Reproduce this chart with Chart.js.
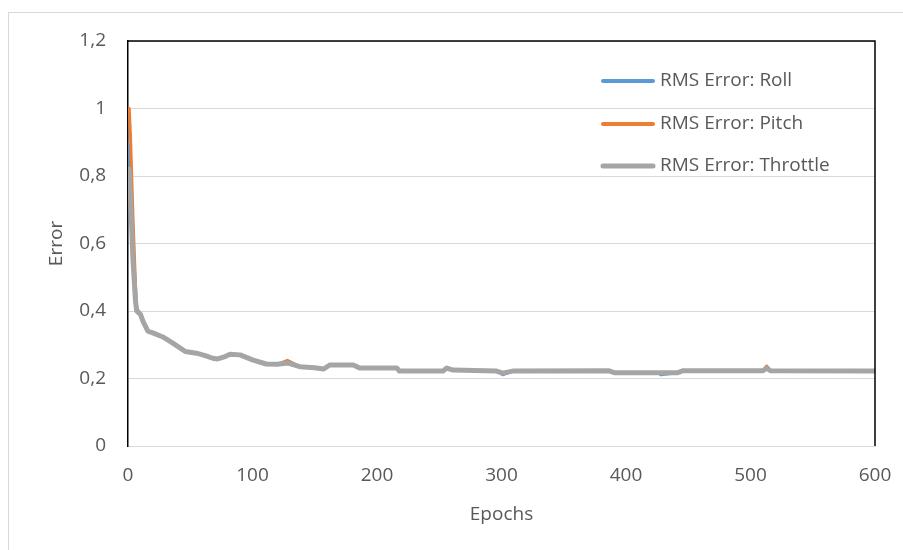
<!DOCTYPE html>
<html>
<head>
<meta charset="utf-8">
<script src="https://cdn.jsdelivr.net/npm/chart.js@4"></script>
<style>
  html, body { margin: 0; padding: 0; background: #fff; }
  #wrap { position: relative; width: 903px; height: 550px; }
  #frame { position: absolute; left: 8px; top: 12px; right: 0; bottom: 0;
           border-left: 1px solid #d9d9d9; border-top: 1px solid #d9d9d9; }
  #errorChart { position: absolute; left: 0; top: 0; }
</style>
</head>
<body>
<div id="wrap">
  <div id="frame"></div>
  <canvas id="errorChart" width="903" height="550"></canvas>
</div>
<script>
const epochs = [0, 1, 2, 4, 6, 7, 10, 12, 16, 20, 28, 36, 42, 46, 55, 62, 68, 72, 78, 82, 90, 100,
    111, 120, 128, 138, 150, 157, 162, 181, 186, 216, 218, 253, 256, 261, 296, 301, 309,
    386, 391, 426, 428, 441, 446, 510, 513, 516, 600];

const rollError = [0.90, 0.88, 0.80, 0.60, 0.45, 0.40, 0.39, 0.37, 0.34, 0.335, 0.323, 0.305, 0.29, 0.28,
    0.275, 0.268, 0.26, 0.258, 0.265, 0.272, 0.27, 0.255, 0.243, 0.242, 0.246, 0.235, 0.232, 0.228,
    0.24, 0.24, 0.231, 0.231, 0.222, 0.222, 0.231, 0.225, 0.222, 0.211, 0.222,
    0.223, 0.217, 0.217, 0.211, 0.217, 0.223, 0.223, 0.231, 0.223, 0.222];

const pitchError = [1.0, 1.0, 0.92, 0.68, 0.48, 0.41, 0.39, 0.37, 0.34, 0.335, 0.323, 0.305, 0.29, 0.28,
    0.275, 0.268, 0.26, 0.258, 0.265, 0.272, 0.27, 0.255, 0.243, 0.242, 0.254, 0.235, 0.232, 0.228,
    0.24, 0.24, 0.231, 0.231, 0.222, 0.222, 0.231, 0.225, 0.222, 0.216, 0.222,
    0.223, 0.217, 0.217, 0.217, 0.217, 0.223, 0.223, 0.237, 0.223, 0.222];

const throttleError = [0.82, 0.82, 0.74, 0.55, 0.43, 0.40, 0.39, 0.37, 0.34, 0.335, 0.323, 0.305, 0.29, 0.28,
    0.275, 0.268, 0.26, 0.258, 0.265, 0.272, 0.27, 0.255, 0.243, 0.242, 0.246, 0.235, 0.232, 0.228,
    0.24, 0.24, 0.231, 0.231, 0.222, 0.222, 0.231, 0.225, 0.222, 0.216, 0.222,
    0.223, 0.217, 0.217, 0.217, 0.217, 0.223, 0.223, 0.231, 0.223, 0.222];

const seriesNames = ['RMS Error: Roll', 'RMS Error: Pitch', 'RMS Error: Throttle'];
const seriesColors = ['#5B9BD5', '#ED7D31', '#A5A5A5'];

const textColor = '#595959';
const fontFamily = '"Open Sans", sans-serif';

function toPoints(values) {
    return epochs.map((e, i) => ({ x: e, y: values[i] }));
}

// legend sits inside the plot area, top right, like the Excel original
const insideLegend = {
    id: 'insideLegend',
    afterDraw(chart) {
        const ctx = chart.ctx;
        const area = chart.chartArea;
        const x0 = area.right - 272;
        const rows = [40, 83, 125];
        ctx.save();
        ctx.font = '19px ' + fontFamily;
        ctx.textBaseline = 'middle';
        ctx.fillStyle = textColor;
        seriesNames.forEach((name, i) => {
            const y = area.top + rows[i];
            ctx.strokeStyle = seriesColors[i];
            ctx.lineWidth = i === 2 ? 5 : 4;
            ctx.lineCap = 'round';
            ctx.beginPath();
            ctx.moveTo(x0, y);
            ctx.lineTo(x0 + 50, y);
            ctx.stroke();
            ctx.fillText(name, x0 + 57, y);
        });
        ctx.restore();
    }
};

// black frame on top and right of the plot area
const plotFrame = {
    id: 'plotFrame',
    afterDraw(chart) {
        const ctx = chart.ctx;
        const a = chart.chartArea;
        ctx.save();
        ctx.strokeStyle = '#000';
        ctx.lineWidth = 1.5;
        ctx.beginPath();
        ctx.moveTo(a.left, a.top);
        ctx.lineTo(a.right, a.top);
        ctx.lineTo(a.right, a.bottom);
        ctx.stroke();
        ctx.restore();
    }
};

const ctx = document.getElementById('errorChart').getContext('2d');
const errorChart = new Chart(ctx, {
    type: 'line',
    data: {
        datasets: [
            {
                label: seriesNames[0],
                data: toPoints(rollError),
                borderColor: seriesColors[0],
                borderWidth: 3,
                order: 3
            },
            {
                label: seriesNames[1],
                data: toPoints(pitchError),
                borderColor: seriesColors[1],
                borderWidth: 3,
                order: 2
            },
            {
                label: seriesNames[2],
                data: toPoints(throttleError),
                borderColor: seriesColors[2],
                borderWidth: 5,
                order: 1
            }
        ]
    },
    options: {
        responsive: false,
        animation: false,
        devicePixelRatio: 1,
        elements: {
            point: { radius: 0 },
            line: { tension: 0, borderJoinStyle: 'round' }
        },
        layout: {
            padding: { left: 41, top: 41, right: 28, bottom: 20 }
        },
        plugins: {
            legend: { display: false },
            tooltip: { enabled: false }
        },
        scales: {
            x: {
                type: 'linear',
                min: 0,
                max: 600,
                ticks: {
                    stepSize: 100,
                    padding: 18,
                    color: textColor,
                    font: { family: fontFamily, size: 19 }
                },
                grid: { display: false, drawTicks: false },
                border: { color: '#d9d9d9', width: 1 },
                title: {
                    display: true,
                    text: 'Epochs',
                    color: textColor,
                    font: { family: fontFamily, size: 19 }
                },
                afterFit(scale) {
                    scale.height = 84;
                    scale.paddingLeft = 0;
                    scale.paddingRight = 0;
                }
            },
            y: {
                min: 0,
                max: 1.2,
                ticks: {
                    stepSize: 0.2,
                    padding: 22,
                    color: textColor,
                    font: { family: fontFamily, size: 19 },
                    callback: v => String(Math.round(v * 10) / 10).replace('.', ',')
                },
                grid: { color: '#d9d9d9', lineWidth: 1, drawTicks: false },
                border: { color: '#000', width: 1.5 },
                title: {
                    display: true,
                    text: 'Error',
                    color: textColor,
                    font: { family: fontFamily, size: 19 }
                },
                afterFit(scale) {
                    scale.width = 87;
                    scale.paddingTop = 0;
                    scale.paddingBottom = 0;
                }
            }
        }
    },
    plugins: [insideLegend, plotFrame]
});
</script>
</body>
</html>
